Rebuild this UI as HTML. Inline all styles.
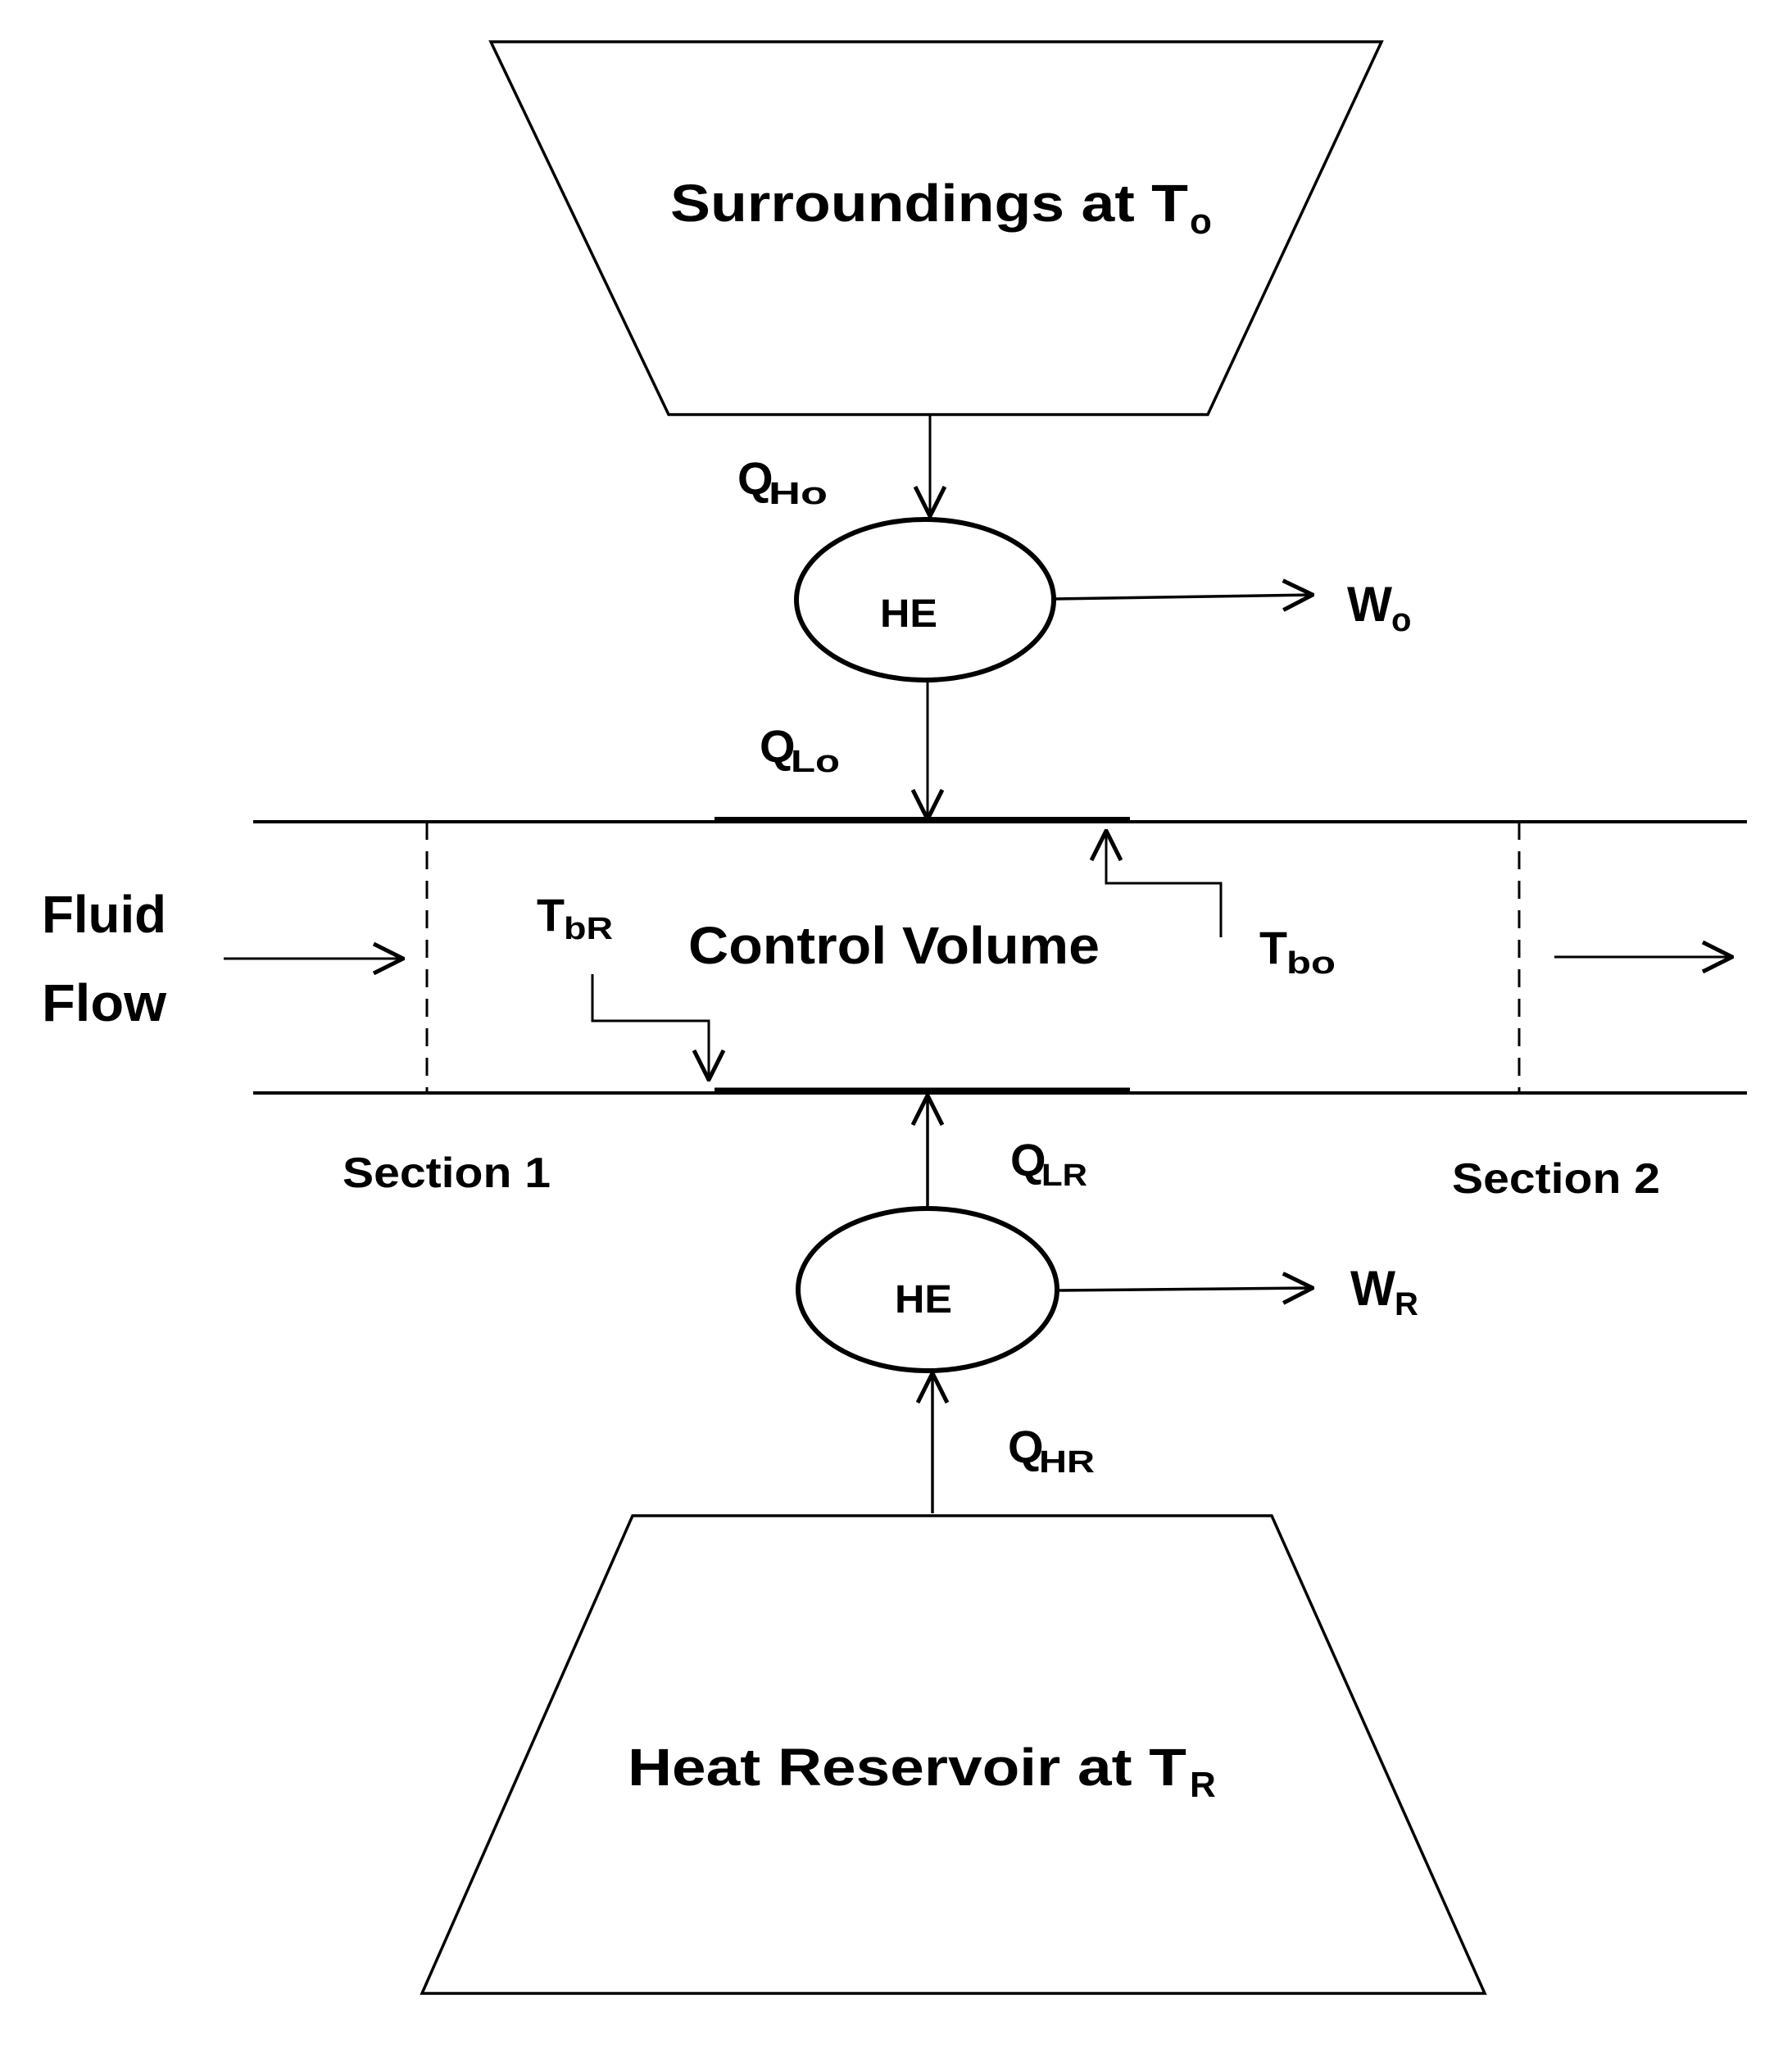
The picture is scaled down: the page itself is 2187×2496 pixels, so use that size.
<!DOCTYPE html>
<html><head><meta charset="utf-8"><style>html,body{margin:0;padding:0;background:#fff}svg{display:block}text{font-family:"Liberation Sans",sans-serif;font-weight:bold;fill:#000}</style></head>
<body>
<svg width="2187" height="2496" viewBox="0 0 2187 2496" xmlns="http://www.w3.org/2000/svg">
<defs>
<marker id="b" markerWidth="40" markerHeight="40" refX="38" refY="20" orient="auto" markerUnits="userSpaceOnUse" viewBox="0 0 40 40"><path d="M2,2 L38,20 L2,38" fill="none" stroke="#000" stroke-width="5"/></marker>
</defs>
<g fill="none" stroke="#000">
<polygon points="599,51 1686,51 1474,506 816,506" stroke-width="3.5"/>
<polygon points="772,1850 1552,1850 1812,2433 515,2433" stroke-width="3.5"/>
<ellipse cx="1129" cy="732" rx="157" ry="98" stroke-width="6"/>
<ellipse cx="1132" cy="1574" rx="158" ry="99" stroke-width="6"/>
<line x1="309" y1="1003" x2="2132" y2="1003" stroke-width="4"/>
<line x1="309" y1="1334" x2="2132" y2="1334" stroke-width="4"/>
<line x1="872" y1="1001" x2="1379" y2="1001" stroke-width="8"/>
<line x1="872" y1="1331" x2="1379" y2="1331" stroke-width="7"/>
<line x1="521" y1="1003" x2="521" y2="1334" stroke-width="3" stroke-dasharray="22,14"/>
<line x1="1854" y1="1003" x2="1854" y2="1334" stroke-width="3" stroke-dasharray="22,14"/>
<line x1="1135" y1="506" x2="1135" y2="630" stroke-width="3" marker-end="url(#b)"/>
<line x1="1132" y1="830" x2="1132" y2="1000" stroke-width="3" marker-end="url(#b)"/>
<line x1="1287" y1="731" x2="1602" y2="726" stroke-width="3.5" marker-end="url(#b)"/>
<line x1="1292" y1="1575" x2="1602" y2="1572" stroke-width="3.5" marker-end="url(#b)"/>
<line x1="1132" y1="1473" x2="1132" y2="1337" stroke-width="3.5" marker-end="url(#b)"/>
<line x1="1138" y1="1847" x2="1138" y2="1676" stroke-width="3.5" marker-end="url(#b)"/>
<line x1="273" y1="1170" x2="492" y2="1170" stroke-width="3" marker-end="url(#b)"/>
<line x1="1897" y1="1168" x2="2114" y2="1168" stroke-width="3" marker-end="url(#b)"/>
<polyline points="723,1189 723,1246 865,1246 865,1318" stroke-width="3" marker-end="url(#b)"/>
<polyline points="1490,1144 1490,1078 1350,1078 1350,1014" stroke-width="3" marker-end="url(#b)"/>
</g>
<text x="818" y="270" font-size="64" textLength="632" lengthAdjust="spacingAndGlyphs">Surroundings at T</text>
<text x="1452" y="285" font-size="44">o</text>
<text x="766" y="2179" font-size="64" textLength="682" lengthAdjust="spacingAndGlyphs">Heat Reservoir at T</text>
<text x="1452" y="2193" font-size="44">R</text>
<text x="1074" y="765" font-size="48" textLength="70" lengthAdjust="spacingAndGlyphs">HE</text>
<text x="1092" y="1602" font-size="48" textLength="70" lengthAdjust="spacingAndGlyphs">HE</text>
<text x="1644" y="758" font-size="60" textLength="55" lengthAdjust="spacingAndGlyphs">W</text><text x="1698" y="770" font-size="40">o</text>
<text x="1648" y="1593" font-size="60" textLength="55" lengthAdjust="spacingAndGlyphs">W</text><text x="1702" y="1605" font-size="40">R</text>
<text x="900" y="603" font-size="56">Q</text><text x="938" y="615" font-size="38" textLength="72" lengthAdjust="spacingAndGlyphs">Ho</text>
<text x="927" y="930" font-size="56">Q</text><text x="965" y="942" font-size="38" textLength="60" lengthAdjust="spacingAndGlyphs">Lo</text>
<text x="1233" y="1435" font-size="56">Q</text><text x="1271" y="1447" font-size="38" textLength="56" lengthAdjust="spacingAndGlyphs">LR</text>
<text x="1230" y="1785" font-size="56">Q</text><text x="1268" y="1797" font-size="38" textLength="68" lengthAdjust="spacingAndGlyphs">HR</text>
<text x="51" y="1138" font-size="64" textLength="152" lengthAdjust="spacingAndGlyphs">Fluid</text>
<text x="51" y="1246" font-size="64" textLength="152" lengthAdjust="spacingAndGlyphs">Flow</text>
<text x="840" y="1176" font-size="64" textLength="502" lengthAdjust="spacingAndGlyphs">Control Volume</text>
<text x="655" y="1136" font-size="56" textLength="34" lengthAdjust="spacingAndGlyphs">T</text><text x="688" y="1146" font-size="38" textLength="60" lengthAdjust="spacingAndGlyphs">bR</text>
<text x="1537" y="1176" font-size="56" textLength="34" lengthAdjust="spacingAndGlyphs">T</text><text x="1570" y="1188" font-size="38" textLength="60" lengthAdjust="spacingAndGlyphs">bo</text>
<text x="418" y="1449" font-size="52" textLength="254" lengthAdjust="spacingAndGlyphs">Section 1</text>
<text x="1772" y="1456" font-size="52" textLength="254" lengthAdjust="spacingAndGlyphs">Section 2</text>
</svg>
</body></html>
